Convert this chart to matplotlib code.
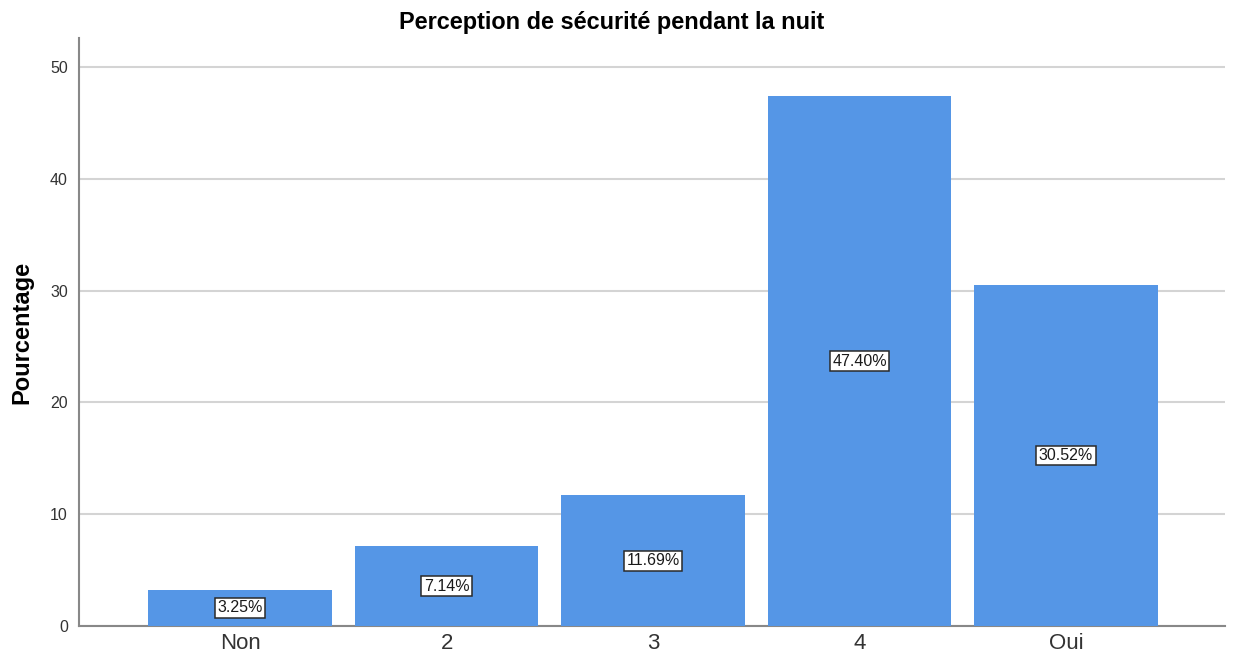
import matplotlib
matplotlib.use("Agg")
import matplotlib.pyplot as plt

categories = ["Non", "2", "3", "4", "Oui"]
values = [3.25, 7.14, 11.69, 47.40, 30.52]
yticks = [0, 10, 20, 30, 40, 50]

plt.rcParams['font.family'] = ['Liberation Sans', 'DejaVu Sans']

fig = plt.figure(figsize=(12.33, 6.64), dpi=100)
ax = fig.add_axes([0.0641, 0.0572, 0.9294, 0.8856])

x = list(range(len(categories)))
ax.bar(x, values, width=0.89, color="#5596E6", zorder=3)
for xi, v in zip(x, values):
    ax.text(xi, v / 2, f"{v:.2f}%", ha="center", va="center", fontsize=11.5,
            color="#1a1a1a", zorder=4,
            bbox=dict(boxstyle="square,pad=0.15", facecolor="white",
                      edgecolor="#2a2a2a", linewidth=1.1))

ax.set_xlim(-0.78, 4.77)
ax.set_ylim(0, 52.6)
ax.set_yticks(yticks)
ax.set_xticks(x)
ax.set_xticklabels(categories, fontsize=16, color="#333333")
ax.tick_params(axis="y", labelsize=11.5, length=0, pad=8, colors="#333333")
ax.tick_params(axis="x", length=0, pad=5)
ax.yaxis.grid(True, color="#d4d4d4", linewidth=1.5, zorder=0)
ax.set_axisbelow(True)
for s in ["top", "right"]:
    ax.spines[s].set_visible(False)
for s in ["left", "bottom"]:
    ax.spines[s].set_color("#888888")
    ax.spines[s].set_linewidth(1.5)

ax.set_ylabel("Pourcentage", fontsize=17, fontweight="bold", labelpad=12)
fig.text(612 / 1233, 1 - 22 / 664, "Perception de sécurité pendant la nuit",
         fontsize=16.9, fontweight="bold", ha="center", va="center")

fig.savefig("out.png", dpi=100)
